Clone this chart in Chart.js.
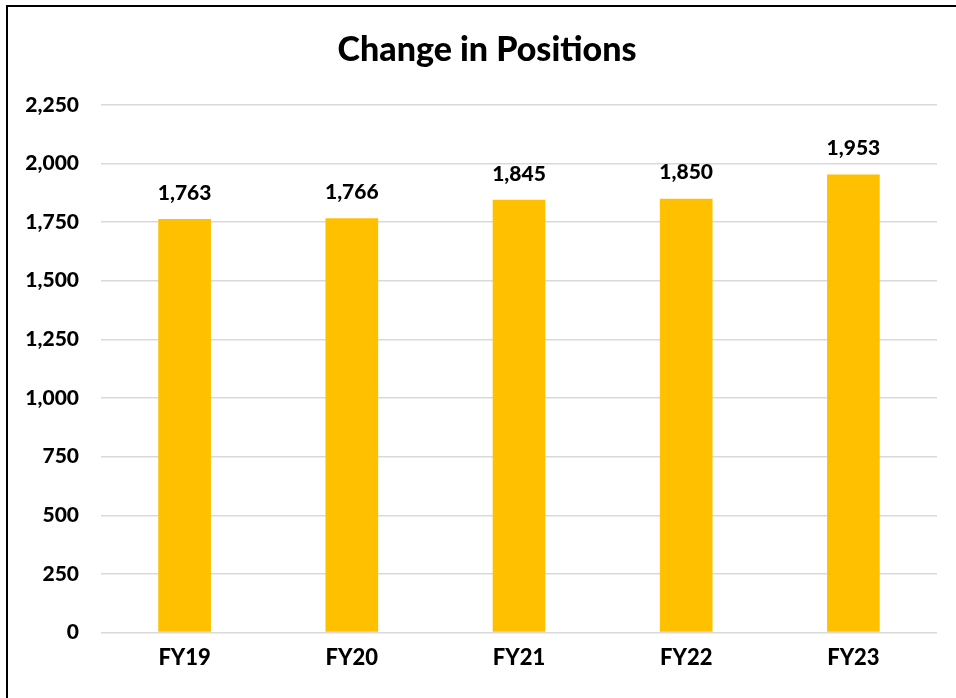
<!DOCTYPE html>
<html>
<head>
<meta charset="utf-8">
<script src="https://cdn.jsdelivr.net/npm/chart.js@4"></script>
<style>
  html, body { margin: 0; padding: 0; overflow: hidden; background: #fff; width: 956px; height: 698px; }
  #wrap { position: absolute; left: 0; top: 0; width: 956px; height: 698px; }
  #frame { position: absolute; left: 6px; top: 5px; width: 980px; height: 720px; border: 2px solid #000; pointer-events: none; box-sizing: border-box; }
</style>
</head>
<body>
<div id="wrap"><canvas id="c" width="956" height="698"></canvas></div>
<div id="frame"></div>
<script>
const categories = ["FY19", "FY20", "FY21", "FY22", "FY23"];
const positions = [1763, 1766, 1845, 1850, 1953];
const yTicks = [0, 250, 500, 750, 1000, 1250, 1500, 1750, 2000, 2250];

const FONT = "Lato, 'Open Sans', sans-serif";
const W = '900';

const dataLabels = {
  id: 'dataLabels',
  afterLayout(chart) {
    if (chart.titleBlock) { chart.titleBlock.left = 37; }
  },
  afterDatasetsDraw(chart) {
    const ctx = chart.ctx;
    const meta = chart.getDatasetMeta(0);
    ctx.save();
    ctx.font = W + " 21px " + FONT;
    ctx.fillStyle = "#000";
    ctx.textAlign = "center";
    ctx.textBaseline = "middle";
    meta.data.forEach((bar, i) => {
      const v = chart.data.datasets[0].data[i];
      ctx.fillText(v.toLocaleString('en-US'), bar.x, bar.y - 26);
    });
    ctx.restore();
  }
};

new Chart(document.getElementById('c'), {
  type: 'bar',
  data: {
    labels: categories,
    datasets: [{
      data: positions,
      backgroundColor: '#FFC000',
      borderWidth: 0,
      categoryPercentage: 1.0,
      barPercentage: 0.315
    }]
  },
  plugins: [dataLabels],
  options: {
    responsive: false,
    animation: false,
    layout: { padding: { left: 0, right: 19, top: 0, bottom: 15 } },
    plugins: {
      legend: { display: false },
      tooltip: { enabled: false },
      title: {
        display: true,
        text: 'Change in Positions',
        color: '#000',
        font: { family: FONT, size: 34, weight: W },
        padding: { top: 30, bottom: 34 }
      }
    },
    scales: {
      x: {
        grid: { display: false, drawTicks: false },
        border: { display: false },
        ticks: { color: '#000', font: { family: FONT, size: 22, weight: W }, padding: 12 }
      },
      y: {
        min: 0,
        max: 2250,
        afterFit(scale) { scale.width = 101; },
        afterBuildTicks(scale) { scale.ticks = yTicks.map(v => ({ value: v })); },
        grid: { color: '#d9d9d9', lineWidth: 1.5, drawTicks: false },
        border: { display: false },
        ticks: {
          color: '#000',
          padding: 22,
          font: { family: FONT, size: 21, weight: W },
          callback: (v) => Number(v).toLocaleString('en-US')
        }
      }
    }
  }
});
</script>
</body>
</html>
